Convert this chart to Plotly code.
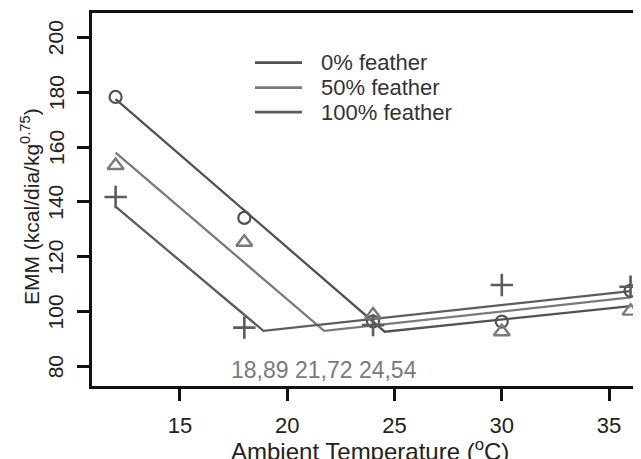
import plotly.graph_objects as go

# Data
temps = [12, 18, 24, 30, 36]
emm_0 = [178.3, 134.2, 96.4, 96.4, 107.6]
emm_50 = [153.3, 125.3, 98.8, 92.7, 100.2]
emm_100 = [141.8, 94.2, 95.1, 109.7, 109.1]

# Broken-line fits: (start x, break x, end x) and (start y, break y, end y)
fit_x_0 = [12, 24.54, 36]
fit_y_0 = [177.5, 92.7, 102.0]
fit_x_50 = [12, 21.72, 36]
fit_y_50 = [158.0, 93.0, 105.2]
fit_x_100 = [12, 18.89, 36]
fit_y_100 = [138.3, 93.0, 107.5]

series_names = ["0% feather", "50% feather", "100% feather"]
breaks = [18.89, 21.72, 24.54]
x_ticks = [15, 20, 25, 30, 35]
y_ticks = [80, 100, 120, 140, 160, 180, 200]

col_0 = "#525252"
col_50 = "#7a7a7a"
col_100 = "#5c5c5c"
FONT = "Liberation Sans"

fig = go.Figure()

for fx, fy, col in [(fit_x_0, fit_y_0, col_0), (fit_x_50, fit_y_50, col_50), (fit_x_100, fit_y_100, col_100)]:
    fig.add_trace(go.Scatter(x=fx, y=fy, mode="lines", line=dict(color=col, width=2.3),
                             showlegend=False, hoverinfo="skip"))

fig.add_trace(go.Scatter(x=temps, y=emm_0, mode="markers", name=series_names[0],
                         marker=dict(symbol="circle-open", size=12, color=col_0, line=dict(width=2.2, color=col_0)),
                         showlegend=False))
fig.add_trace(go.Scatter(x=temps, y=emm_50, mode="markers", name=series_names[1],
                         marker=dict(symbol="triangle-up-open", size=14, color=col_50, line=dict(width=2.4, color=col_50)),
                         showlegend=False))
fig.add_trace(go.Scatter(x=temps, y=emm_100, mode="markers", name=series_names[2],
                         marker=dict(symbol="cross-thin-open", size=16, color=col_100, line=dict(width=2.6, color=col_100)),
                         showlegend=False))

# Manual legend
leg_y = [0.867, 0.800, 0.734]
for name, col, yy in zip(series_names, [col_0, col_50, col_100], leg_y):
    fig.add_shape(type="line", xref="paper", yref="paper", x0=0.2926, x1=0.377, y0=yy, y1=yy,
                  line=dict(color=col, width=2.8))
    fig.add_annotation(xref="paper", yref="paper", x=0.4075, y=yy, text=name, showarrow=False,
                       xanchor="left", yanchor="middle", font=dict(family=FONT, size=22, color="#333333"))

# Break point labels
fig.add_annotation(x=breaks[1], y=78.7, text=" ".join(f"{b:.2f}".replace(".", ",") for b in breaks),
                   showarrow=False, xanchor="center", yanchor="middle",
                   font=dict(family=FONT, size=23, color="#7a7a7a"))

# Rotated y tick labels
for v in y_ticks:
    fig.add_annotation(xref="paper", yref="y", x=-0.0650, y=v, text=str(v), showarrow=False,
                       textangle=-90, xanchor="center", yanchor="middle",
                       font=dict(family=FONT, size=21, color="#222222"))

# Axis titles
fig.add_annotation(xref="paper", yref="paper", x=-0.1113, y=0.48,
                   text="EMM (kcal/dia/kg<sup>0.75</sup>)", showarrow=False,
                   textangle=-90, xanchor="center", yanchor="middle",
                   font=dict(family=FONT, size=21, color="#222222"))
fig.add_annotation(xref="paper", yref="paper", x=0.499, y=-0.171,
                   text="Ambient Temperature (<sup>o</sup>C)", showarrow=False,
                   xanchor="center", yanchor="middle",
                   font=dict(family=FONT, size=24, color="#222222"))

fig.update_layout(
    width=641, height=459,
    margin=dict(l=84, r=0, t=5, b=81),
    plot_bgcolor="white", paper_bgcolor="white",
    font=dict(family=FONT, size=21, color="#222222"),
    xaxis=dict(range=[10.9, 36.86], tickvals=x_ticks, showgrid=False, zeroline=False,
               automargin=False, mirror=True,
               showline=True, linecolor="#111111", linewidth=2.5,
               ticks="outside", ticklen=12, tickwidth=2.8, tickcolor="#111111",
               ticklabelstandoff=6,
               tickfont=dict(size=22, color="#222222")),
    yaxis=dict(range=[72.9, 208.9], tickvals=y_ticks, showticklabels=False,
               showgrid=False, zeroline=False,
               automargin=False, mirror=True,
               showline=True, linecolor="#111111", linewidth=2.5,
               ticks="outside", ticklen=12, tickwidth=2.8, tickcolor="#111111"),
)

fig.write_html("out.html")
